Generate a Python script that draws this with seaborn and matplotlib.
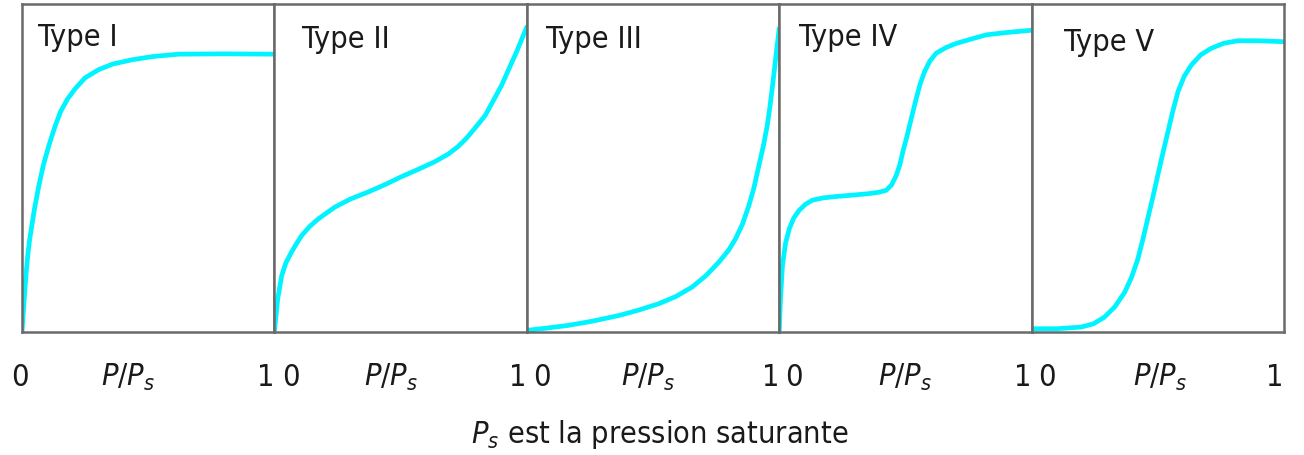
import numpy as np
import pandas as pd
import matplotlib
matplotlib.use("Agg")
import matplotlib.pyplot as plt
import seaborn as sns

# isotherm shapes (x = P/Ps, y = amount adsorbed, 0..1)
types = ["Type I", "Type II", "Type III", "Type IV", "Type V"]

x_I = [0, 0.004, 0.008, 0.012, 0.017, 0.023, 0.03, 0.04, 0.05, 0.067, 0.085, 0.107, 0.13,
       0.153, 0.18, 0.212, 0.25, 0.304, 0.36, 0.436, 0.52, 0.62, 0.8, 1.0]
y_I = [0, 0.045, 0.09, 0.135, 0.185, 0.235, 0.28, 0.33, 0.378, 0.447, 0.51, 0.57, 0.625,
       0.672, 0.71, 0.743, 0.775, 0.80, 0.817, 0.83, 0.84, 0.847, 0.848, 0.847]

x_II = [0, 0.005, 0.013, 0.029, 0.045, 0.068, 0.088, 0.108, 0.14, 0.174, 0.24, 0.3,
        0.372, 0.44, 0.502, 0.57, 0.635, 0.69, 0.727, 0.76, 0.793, 0.835, 0.872,
        0.9, 0.925, 0.96, 1.0]
y_II = [0, 0.04, 0.1, 0.172, 0.21, 0.244, 0.27, 0.294, 0.322, 0.345, 0.381, 0.405,
        0.427, 0.45, 0.473, 0.496, 0.519, 0.543, 0.565, 0.59, 0.62, 0.66, 0.712,
        0.752, 0.795, 0.855, 0.93]

x_III = [0, 0.08, 0.163, 0.26, 0.363, 0.44, 0.522, 0.59, 0.655, 0.71, 0.761, 0.8,
         0.827, 0.855, 0.88, 0.9, 0.92, 0.938, 0.953, 0.963, 0.972, 0.981, 0.989, 1.0]
y_III = [0.005, 0.012, 0.02, 0.033, 0.05, 0.066, 0.086, 0.108, 0.137, 0.172, 0.213, 0.25,
         0.284, 0.33, 0.386, 0.44, 0.509, 0.57, 0.631, 0.685, 0.74, 0.8, 0.855, 0.925]

x_IV = [0, 0.005, 0.013, 0.025, 0.04, 0.058, 0.079, 0.105, 0.132, 0.175, 0.225, 0.3,
        0.357, 0.395, 0.424, 0.445, 0.464, 0.478, 0.49, 0.504, 0.517, 0.53, 0.543,
        0.558, 0.576, 0.597, 0.622, 0.66, 0.702, 0.76, 0.821, 0.9, 1.0]
y_IV = [0, 0.1, 0.203, 0.27, 0.315, 0.348, 0.371, 0.39, 0.402, 0.409, 0.413, 0.418,
        0.422, 0.426, 0.432, 0.448, 0.478, 0.51, 0.55, 0.59, 0.631, 0.672, 0.712,
        0.755, 0.794, 0.826, 0.85, 0.867, 0.88, 0.893, 0.906, 0.913, 0.92]

x_V = [0, 0.1, 0.196, 0.245, 0.288, 0.33, 0.368, 0.395, 0.42, 0.44, 0.46, 0.48, 0.5,
       0.52, 0.54, 0.56, 0.58, 0.605, 0.633, 0.67, 0.712, 0.76, 0.817, 0.9, 1.0]
y_V = [0.01, 0.01, 0.015, 0.025, 0.045, 0.077, 0.12, 0.165, 0.22, 0.28, 0.345, 0.41,
       0.478, 0.545, 0.61, 0.675, 0.733, 0.78, 0.814, 0.845, 0.865, 0.88, 0.888, 0.888, 0.885]

curves = [(x_I, y_I), (x_II, y_II), (x_III, y_III), (x_IV, y_IV), (x_V, y_V)]

sns.set_style("white")
plt.rcParams['font.family'] = ['DejaVu Sans']
plt.rcParams['font.stretch'] = 'condensed'
plt.rcParams['mathtext.fontset'] = 'custom'
plt.rcParams['mathtext.rm'] = 'DejaVu Sans'
plt.rcParams['mathtext.it'] = 'DejaVu Sans:italic'

fig = plt.figure(figsize=(13.04, 4.56), dpi=100)
gs = fig.add_gridspec(1, 5, left=22/1304, right=1284/1304, bottom=123/456, top=451/456, wspace=0)

label_pos = [(0.065, 0.90), (0.11, 0.895), (0.075, 0.895), (0.08, 0.90), (0.13, 0.885)]
zero_x = [-0.01, 0.065, 0.06, 0.06, 0.06]
ps_x = [0.42, 0.46, 0.48, 0.5, 0.51]

for i, (name, (xs, ys)) in enumerate(zip(types, curves)):
    ax = fig.add_subplot(gs[0, i])
    df = pd.DataFrame({"x": xs, "y": ys})
    sns.lineplot(data=df, x="x", y="y", ax=ax, color="#00f4ff", linewidth=3.4,
                 sort=False, estimator=None)
    ax.set_xlim(0, 1)
    ax.set_ylim(0, 1)
    ax.set_xticks([])
    ax.set_yticks([])
    ax.set_xlabel("")
    ax.set_ylabel("")
    for sp in ax.spines.values():
        sp.set_color("#6a6a6a")
        sp.set_linewidth(1.8)
    ax.text(label_pos[i][0], label_pos[i][1], name, transform=ax.transAxes,
            fontsize=22, va="center", ha="left", color="#1a1a1a")
    ax.text(zero_x[i], -0.135, "0", transform=ax.transAxes, fontsize=22,
            ha="center", va="center", color="#1a1a1a")
    ax.text(0.965, -0.135, "1", transform=ax.transAxes, fontsize=22,
            ha="center", va="center", color="#1a1a1a")
    ax.text(ps_x[i], -0.135, "$P/P_s$", transform=ax.transAxes, fontsize=22,
            ha="center", va="center", color="#1a1a1a")

fig.text(660/1304, 1 - 435/456, "$P_s$ est la pression saturante", fontsize=22,
         ha="center", va="center", color="#1a1a1a")

fig.savefig("out.png", dpi=100)
